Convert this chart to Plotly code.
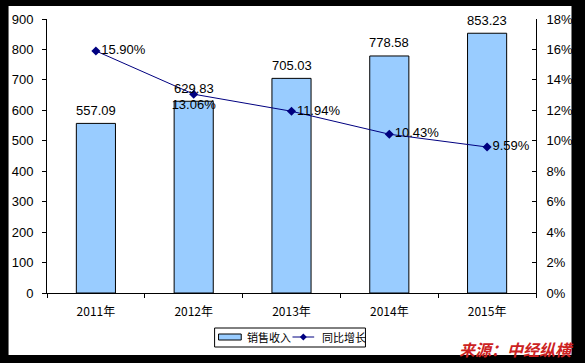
import plotly.graph_objects as go

categories = ["2011年", "2012年", "2013年", "2014年", "2015年"]
sales = [557.09, 629.83, 705.03, 778.58, 853.23]
growth = [0.1590, 0.1306, 0.1194, 0.1043, 0.0959]
growth_labels = ["15.90%", "13.06%", "11.94%", "10.43%", "9.59%"]
sales_labels = ["557.09", "629.83", "705.03", "778.58", "853.23"]
series_names = ["销售收入", "同比增长"]
source_text = "来源：中经纵横"

W, H = 585, 363
L, R, T, B = 44, 45, 19, 70
pw, ph = W - L - R, H - T - B

def px_x(x):
    return (x - L) / pw

def px_y(y):
    return (H - B - y) / ph

font_num = "'Liberation Sans Narrow', 'Arial Narrow', Arial, 'Noto Sans CJK SC', sans-serif"
font_cjk = "'Liberation Sans Narrow', 'Noto Sans CJK SC', sans-serif"
navy = "#000080"
blue = "#99CCFF"

fig = go.Figure()
fig.add_trace(go.Bar(
    x=categories, y=sales, name=series_names[0],
    marker=dict(color=blue, line=dict(color="black", width=1)),
    showlegend=False,
))
fig.add_trace(go.Scatter(
    x=categories, y=growth, name=series_names[1], yaxis="y2",
    mode="lines+markers+text",
    line=dict(color=navy, width=1),
    marker=dict(symbol="diamond", size=7, color=navy),
    text=growth_labels,
    textposition=["middle right", "bottom center", "middle right", "middle right", "middle right"],
    textfont=dict(size=13, color="black", family=font_num),
    cliponaxis=False, showlegend=False,
))

annotations = []
for c, v, t in zip(categories, sales, sales_labels):
    annotations.append(dict(x=c, y=v, xref="x", yref="y", text=t, showarrow=False,
                            yanchor="middle", yshift=13,
                            font=dict(size=13, color="black", family=font_num)))

# manual legend (decoration)
ly = px_y(337)
shapes = [
    dict(type="rect", xref="paper", yref="paper", layer="below",
         x0=px_x(5), x1=px_x(576), y0=px_y(355), y1=px_y(6),
         fillcolor="white", line=dict(width=0)),
    dict(type="rect", xref="paper", yref="paper",
         x0=px_x(214), x1=px_x(367), y0=px_y(347), y1=px_y(328),
         fillcolor="white", line=dict(color="black", width=1)),
    dict(type="rect", xref="paper", yref="paper",
         x0=px_x(218), x1=px_x(241), y0=px_y(340), y1=px_y(334),
         fillcolor=blue, line=dict(color="black", width=1)),
    dict(type="line", xref="paper", yref="paper",
         x0=px_x(293), x1=px_x(315), y0=ly, y1=ly,
         line=dict(color=navy, width=1)),
    dict(type="path", xref="paper", yref="paper",
         path=f"M {px_x(304)},{px_y(333.5)} L {px_x(307.5)},{ly} L {px_x(304)},{px_y(340.5)} L {px_x(300.5)},{ly} Z",
         fillcolor=navy, line=dict(color=navy, width=0)),
]
annotations += [
    dict(text=series_names[0], xref="paper", yref="paper", x=px_x(245), y=ly,
         xanchor="left", yanchor="middle", showarrow=False,
         font=dict(size=11, color="black", family=font_cjk)),
    dict(text=series_names[1], xref="paper", yref="paper", x=px_x(321), y=ly,
         xanchor="left", yanchor="middle", showarrow=False,
         font=dict(size=11, color="black", family=font_cjk)),
    dict(text=f"<b><i>{source_text}</i></b>", xref="paper", yref="paper",
         x=px_x(520), y=px_y(349), xanchor="center", yanchor="middle",
         showarrow=False,
         font=dict(size=16, color="#CC2222", family="'Noto Sans CJK SC', sans-serif")),
]

fig.update_layout(
    width=W, height=H,
    margin=dict(l=L, r=R, t=T, b=B, pad=0),
    paper_bgcolor="black", plot_bgcolor="white",
    font=dict(family=font_num, size=13, color="black"),
    bargap=0.6,
    showlegend=False,
    xaxis=dict(type="category", range=[-0.5, 4.5], showline=True, linecolor="black", linewidth=1,
               ticks="outside", tickson="boundaries", ticklen=4, tickcolor="black",
               showgrid=False, tickfont=dict(size=12, family=font_cjk), zeroline=False,
               ticklabelstandoff=8),
    yaxis=dict(range=[0, 900], dtick=100, showline=True, linecolor="black", linewidth=1,
               ticks="outside", ticklen=4, tickcolor="black", showgrid=False, zeroline=False,
               tickfont=dict(size=13), ticklabelstandoff=6),
    yaxis2=dict(range=[0, 0.18], dtick=0.02, tickformat=".0%", overlaying="y", side="right",
                showline=True, linecolor="black", linewidth=1, ticks="inside", ticklen=4,
                tickcolor="black", showgrid=False, zeroline=False, tickfont=dict(size=13),
                ticklabelstandoff=7),
    shapes=shapes,
    annotations=annotations,
)

fig.write_html("out.html", config={"displayModeBar": False},
               post_script="document.body.style.margin='0';document.body.style.overflow='hidden';")
